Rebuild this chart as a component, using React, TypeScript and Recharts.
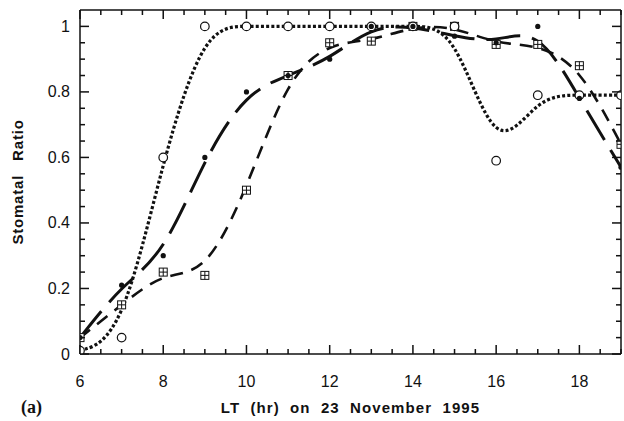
import { ComposedChart, Line, XAxis, YAxis } from 'recharts';

// hourly observations, 23 Nov 1995
const hours = [6, 7, 8, 9, 10, 11, 12, 13, 14, 15, 16, 17, 18, 19];
const openCircle = [0.01, 0.05, 0.6, 1.0, 1.0, 1.0, 1.0, 1.0, 1.0, 1.0, 0.59, 0.79, 0.79, 0.79];
const filledDot = [0.05, 0.21, 0.3, 0.6, 0.8, 0.85, 0.9, 1.0, 1.0, 0.97, 0.95, 1.0, 0.78, 0.57];
const crossSquare = [0.05, 0.15, 0.25, 0.24, 0.5, 0.85, 0.95, 0.955, 1.0, 1.0, 0.945, 0.945, 0.88, 0.64];

const xTicks = [6, 6.5, 7, 7.5, 8, 8.5, 9, 9.5, 10, 10.5, 11, 11.5, 12, 12.5, 13, 13.5, 14, 14.5, 15, 15.5, 16, 16.5, 17, 17.5, 18, 18.5, 19];
const xLabels = [6, 8, 10, 12, 14, 16, 18];
const yTicks = [0, 0.05, 0.1, 0.15, 0.2, 0.25, 0.3, 0.35, 0.4, 0.45, 0.5, 0.55, 0.6, 0.65, 0.7, 0.75, 0.8, 0.85, 0.9, 0.95, 1];
const yLabels = [0, 0.2, 0.4, 0.6, 0.8, 1];

const data = hours.map((hr, i) => ({
  hr,
  circle: openCircle[i],
  dot: filledDot[i],
  square: crossSquare[i],
}));

const SANS = '"Liberation Sans", Arial, Helvetica, sans-serif';
const INK = '#111';
const TW = 1.5; // tick thickness
const isMajorY = (v: number) => yLabels.some((l) => Math.abs(l - v) < 1e-6);

// tick marks point into the plot; drawn as thin rects
const BottomTick = ({ x, y, payload }: any) => {
  const major = xLabels.includes(payload.value);
  const len = major ? 9 : 5;
  return (
    <g>
      <rect x={x - TW / 2} y={y - len} width={TW} height={len} fill={INK} />
      {major && (
        <text x={x} y={y + 33} textAnchor="middle" fontSize={16} fontFamily={SANS} fill={INK}>
          {payload.value}
        </text>
      )}
    </g>
  );
};

const TopTick = ({ x, y, payload }: any) => {
  const len = xLabels.includes(payload.value) ? 9 : 5;
  return <rect x={x - TW / 2} y={y} width={TW} height={len} fill={INK} />;
};

const LeftTick = ({ x, y, payload }: any) => {
  const major = isMajorY(payload.value);
  const len = major ? 9 : 5;
  return (
    <g>
      <rect x={x} y={y - TW / 2} width={len} height={TW} fill={INK} />
      {major && (
        <text x={x - 10} y={y + 5.5} textAnchor="end" fontSize={16} fontFamily={SANS} fill={INK}>
          {payload.value}
        </text>
      )}
    </g>
  );
};

const RightTick = ({ x, y, payload }: any) => {
  const len = isMajorY(payload.value) ? 9 : 5;
  return <rect x={x - len} y={y - TW / 2} width={len} height={TW} fill={INK} />;
};

const CircleMark = (p: any) =>
  p.cy == null ? <g key={p.index} /> : (
    <circle key={p.index} cx={p.cx} cy={p.cy} r={4.3} fill="#fff" stroke={INK} strokeWidth={1.2} />
  );

const DotMark = (p: any) =>
  p.cy == null ? <g key={p.index} /> : <circle key={p.index} cx={p.cx} cy={p.cy} r={2.6} fill={INK} />;

const SquareMark = (p: any) =>
  p.cy == null ? <g key={p.index} /> : (
    <g key={p.index}>
      <rect x={p.cx - 4} y={p.cy - 4} width={8} height={8} fill="#fff" stroke={INK} strokeWidth={1} />
      <line x1={p.cx} x2={p.cx} y1={p.cy - 4} y2={p.cy + 4} stroke={INK} strokeWidth={1} />
      <line x1={p.cx - 4} x2={p.cx + 4} y1={p.cy} y2={p.cy} stroke={INK} strokeWidth={1} />
    </g>
  );

const XTitle = ({ viewBox }: any) => (
  <g>
    <text
      x={viewBox.x + viewBox.width / 2}
      y={viewBox.y + 59}
      textAnchor="middle"
      fontSize={15}
      fontWeight="bold"
      fontFamily={SANS}
      wordSpacing={5}
      letterSpacing={1.1}
      fill={INK}
    >
      LT (hr) on 23 November 1995
    </text>
    <text x={21} y={viewBox.y + 59} fontSize={18} fontWeight="bold" fontFamily='"Liberation Serif", "Times New Roman", serif' fill={INK}>
      (a)
    </text>
  </g>
);

const YTitle = ({ viewBox }: any) => {
  const cx = 23;
  const cy = viewBox.y + viewBox.height / 2;
  return (
    <text
      x={cx}
      y={cy}
      transform={`rotate(-90, ${cx}, ${cy})`}
      textAnchor="middle"
      fontSize={15}
      fontWeight="bold"
      fontFamily={SANS}
      wordSpacing={9}
      letterSpacing={0.8}
      fill={INK}
    >
      Stomatal Ratio
    </text>
  );
};

// plot frame edges drawn by the axis lines
const frame = { stroke: INK, strokeWidth: 1.5 };

export default function App() {
  return (
    <div style={{ position: 'absolute', left: 0, top: 0, background: '#fff' }}>
      <ComposedChart width={624} height={421} data={data} margin={{ top: 9, right: 2, bottom: 0, left: 0 }}>
        <XAxis
          xAxisId="b"
          dataKey="hr"
          type="number"
          domain={[6, 19]}
          allowDataOverflow
          ticks={xTicks}
          interval={0}
          height={67}
          tickSize={0}
          tickMargin={0}
          tickLine={false}
          tick={<BottomTick />}
          axisLine={frame}
          label={<XTitle />}
        />
        <XAxis
          xAxisId="t"
          orientation="top"
          dataKey="hr"
          type="number"
          domain={[6, 19]}
          allowDataOverflow
          ticks={xTicks}
          interval={0}
          height={1}
          tickSize={0}
          tickMargin={0}
          tickLine={false}
          tick={<TopTick />}
          axisLine={frame}
        />
        <YAxis
          yAxisId="l"
          type="number"
          domain={[0, 1.05]}
          allowDataOverflow
          ticks={yTicks}
          interval={0}
          width={80}
          tickSize={0}
          tickMargin={0}
          tickLine={false}
          tick={<LeftTick />}
          axisLine={frame}
          label={<YTitle />}
        />
        <YAxis
          yAxisId="r"
          orientation="right"
          type="number"
          domain={[0, 1.05]}
          allowDataOverflow
          ticks={yTicks}
          interval={0}
          width={1}
          tickSize={0}
          tickMargin={0}
          tickLine={false}
          tick={<RightTick />}
          axisLine={frame}
        />

        {/* fitted curves */}
        <Line xAxisId="b" yAxisId="l" type="basis" dataKey="square" stroke={INK} strokeWidth={2.6} strokeDasharray="13 9" dot={false} activeDot={false} isAnimationActive={false} />
        <Line xAxisId="b" yAxisId="l" type="basis" dataKey="dot" stroke={INK} strokeWidth={3} strokeDasharray="34 12" dot={false} activeDot={false} isAnimationActive={false} />
        <Line xAxisId="b" yAxisId="l" type="basis" dataKey="circle" stroke={INK} strokeWidth={3.2} strokeDasharray="3 2.2" dot={false} activeDot={false} isAnimationActive={false} />

        {/* observed points */}
        <Line xAxisId="b" yAxisId="l" dataKey="square" stroke="none" dot={SquareMark} activeDot={false} isAnimationActive={false} />
        <Line xAxisId="b" yAxisId="l" dataKey="circle" stroke="none" dot={CircleMark} activeDot={false} isAnimationActive={false} />
        <Line xAxisId="b" yAxisId="l" dataKey="dot" stroke="none" dot={DotMark} activeDot={false} isAnimationActive={false} />
      </ComposedChart>
    </div>
  );
}
